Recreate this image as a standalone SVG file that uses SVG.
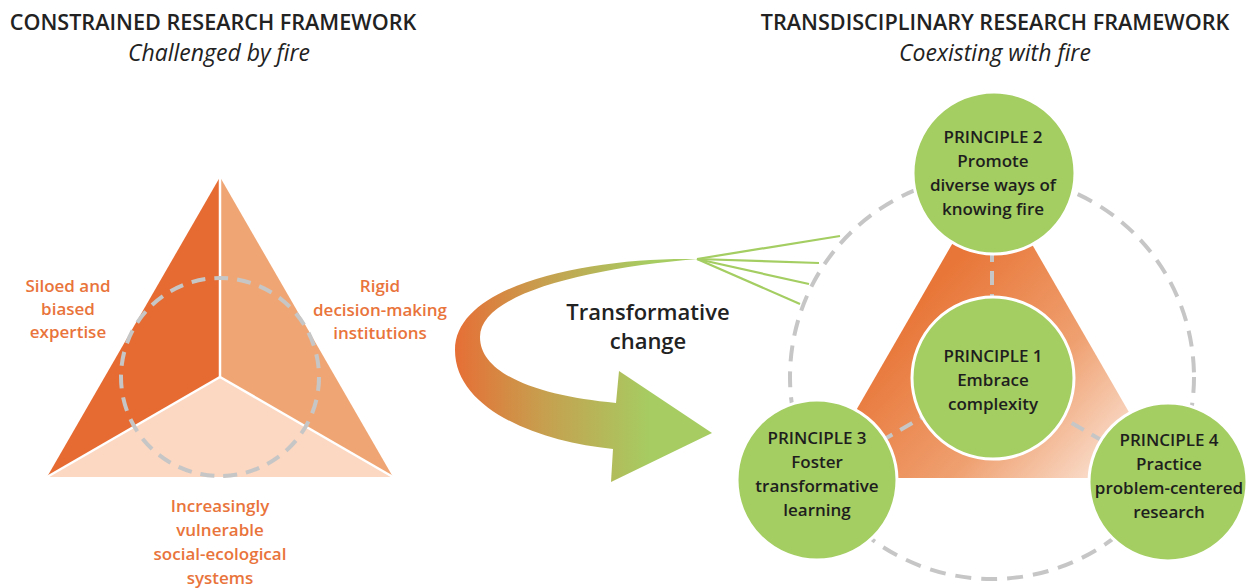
<svg xmlns="http://www.w3.org/2000/svg" width="1258" height="588" viewBox="0 0 1258 588">
<style>
.t{font-family:"Open Sans","Noto Sans","Liberation Sans",sans-serif;}
.title{font-size:21.6px;font-weight:600;fill:#222;}
.sub{font-size:23px;font-style:italic;fill:#222;}
.lab{font-size:17px;font-weight:600;fill:#E9743B;}
.pr{font-size:17px;font-weight:600;fill:#1e1e1e;}
.big{font-size:22px;font-weight:600;fill:#222;}
.dash{fill:none;stroke:#C6C6C6;stroke-width:4;}
.node{fill:#A4CD62;stroke:#fff;stroke-width:3;}
.fan{stroke:#A4CD62;stroke-width:2.2;fill:none;}
</style>
<defs>
<linearGradient id="arrowGrad" gradientUnits="userSpaceOnUse" x1="455" y1="0" x2="650" y2="0">
<stop offset="0" stop-color="#E66F36"/>
<stop offset="0.45" stop-color="#C79F4E"/>
<stop offset="1" stop-color="#A6CC62"/>
</linearGradient>
<linearGradient id="triGrad" gradientUnits="userSpaceOnUse" x1="930" y1="290" x2="1140" y2="480">
<stop offset="0" stop-color="#E87638"/>
<stop offset="0.5" stop-color="#EFA070"/>
<stop offset="1" stop-color="#FDF0E8"/>
</linearGradient>
</defs>
<rect width="1258" height="588" fill="#fff"/>

<g id="titles" class="t">
<text class="title" x="213" y="30" text-anchor="middle">CONSTRAINED RESEARCH FRAMEWORK</text>
<text class="sub" x="219" y="61" text-anchor="middle">Challenged by fire</text>
<text class="title" x="995" y="30" text-anchor="middle">TRANSDISCIPLINARY RESEARCH FRAMEWORK</text>
<text class="sub" x="995" y="61" text-anchor="middle">Coexisting with fire</text>
</g>

<g id="constrained-triangle">
<polygon points="220,177 220,377 47,477" fill="#E66B32"/>
<polygon points="220,177 393,477 220,377" fill="#F0A674"/>
<polygon points="47,477 220,377 393,477" fill="#FCD7C1"/>
<g stroke="#fff" stroke-width="2.5">
<line x1="220" y1="177" x2="220" y2="377"/>
<line x1="220" y1="377" x2="47" y2="477"/>
<line x1="220" y1="377" x2="393" y2="477"/>
</g>
<circle class="dash" cx="220" cy="377" r="99" stroke-dasharray="14 9"/>
</g>

<g id="label-siloed" class="t">
<text class="lab" x="68" y="292" text-anchor="middle">Siloed and</text>
<text class="lab" x="68" y="315" text-anchor="middle">biased</text>
<text class="lab" x="68" y="338" text-anchor="middle">expertise</text>
</g>
<g id="label-rigid" class="t">
<text class="lab" x="380" y="292" text-anchor="middle">Rigid</text>
<text class="lab" x="380" y="316" text-anchor="middle">decision-making</text>
<text class="lab" x="380" y="339" text-anchor="middle">institutions</text>
</g>
<g id="label-vulnerable" class="t">
<text class="lab" x="220" y="512" text-anchor="middle">Increasingly</text>
<text class="lab" x="220" y="536" text-anchor="middle">vulnerable</text>
<text class="lab" x="220" y="560" text-anchor="middle">social-ecological</text>
<text class="lab" x="220" y="584" text-anchor="middle">systems</text>
</g>

<g id="transformative-arrow">
<path d="M697,259 C590,257 455,284 455,350 C455,410 540,442 613,449 L611,482 L712,433 L619,371 L616,403 C540,396 480,375 480,337 C480,293 590,268 697,259 Z" fill="url(#arrowGrad)"/>
<text class="t big" x="648" y="320" text-anchor="middle">Transformative</text>
<text class="t big" x="648" y="349" text-anchor="middle">change</text>
</g>

<g id="connectors">
<g class="fan">
<line x1="697" y1="259" x2="840" y2="236"/>
<line x1="697" y1="259" x2="819" y2="263"/>
<line x1="697" y1="259" x2="809" y2="284"/>
<line x1="697" y1="259" x2="800" y2="304"/>
</g>
<circle class="dash" cx="992" cy="377" r="202" stroke-dasharray="16 10"/>
</g>

<g id="core-triangle">
<polygon points="992,175 817,478 1167,478" fill="url(#triGrad)"/>
<g class="dash" stroke-dasharray="14 9">
<line x1="992" y1="377" x2="992" y2="175"/>
<line x1="992" y1="377" x2="817" y2="478"/>
<line x1="992" y1="377" x2="1167" y2="478"/>
</g>
</g>

<g id="principle-1" class="t">
<circle class="node" cx="993" cy="378" r="81"/>
<text class="pr" x="993" y="362" text-anchor="middle">PRINCIPLE 1</text>
<text class="pr" x="993" y="386" text-anchor="middle">Embrace</text>
<text class="pr" x="993" y="410" text-anchor="middle">complexity</text>
</g>
<g id="principle-2" class="t">
<circle class="node" cx="994" cy="173" r="81"/>
<text class="pr" x="993" y="143" text-anchor="middle">PRINCIPLE 2</text>
<text class="pr" x="993" y="167" text-anchor="middle">Promote</text>
<text class="pr" x="993" y="191" text-anchor="middle">diverse ways of</text>
<text class="pr" x="993" y="215" text-anchor="middle">knowing fire</text>
</g>
<g id="principle-3" class="t">
<circle class="node" cx="817" cy="480" r="80"/>
<text class="pr" x="817" y="444" text-anchor="middle">PRINCIPLE 3</text>
<text class="pr" x="817" y="468" text-anchor="middle">Foster</text>
<text class="pr" x="817" y="492" text-anchor="middle">transformative</text>
<text class="pr" x="817" y="516" text-anchor="middle">learning</text>
</g>
<g id="principle-4" class="t">
<circle class="node" cx="1168" cy="482" r="79"/>
<text class="pr" x="1169" y="446" text-anchor="middle">PRINCIPLE 4</text>
<text class="pr" x="1169" y="470" text-anchor="middle">Practice</text>
<text class="pr" x="1169" y="494" text-anchor="middle">problem-centered</text>
<text class="pr" x="1169" y="518" text-anchor="middle">research</text>
</g>
</svg>
